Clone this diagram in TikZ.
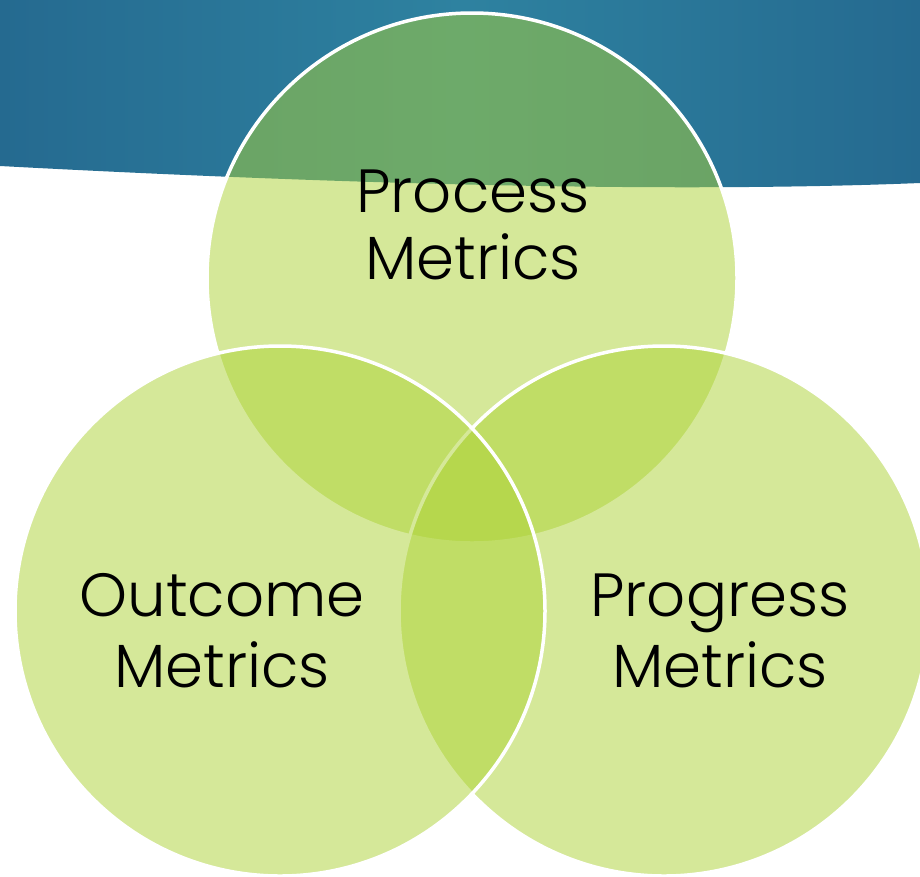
\documentclass[tikz,border=0pt]{standalone}
\usepackage{fontspec}
\setmainfont{Poppins Light}
\definecolor{bandblueA}{HTML}{256A90}
\definecolor{bandblueB}{HTML}{2E82A0}
\definecolor{vennfill}{HTML}{ADD335}
\tikzset{
  venn/.style={circle, minimum size=530pt, inner sep=0pt, outer sep=0pt,
    fill=vennfill, fill opacity=0.5, draw=white, draw opacity=1, line width=3.5pt},
  lbl/.style={anchor=base, inner sep=0pt, text=black,
    font=\fontsize{61}{67}\selectfont}
}
\begin{document}
\begin{tikzpicture}[x=1pt,y=-1pt]
\useasboundingbox (0,0) rectangle (920,876);
\fill[white] (0,0) rectangle (920,876);
% blue band
\shade[left color=bandblueA, right color=bandblueA, middle color=bandblueB]
  (0,0) -- (920,0) -- (920,183) .. controls (650,194) and (300,182) .. (0,166) -- cycle;
% circles
\node[venn] (process) at (472,278) {};
\node[venn] (progress) at (664,611) {};
\node[venn] (outcome) at (280,611) {};
% labels
\node[lbl] (processA) at (473,212) {Process};
\node[lbl] (processB) at (473,279) {Metrics};
\node[lbl] (outcomeA) at (222,616) {Outcome};
\node[lbl] (outcomeB) at (222,687) {Metrics};
\node[lbl] (progressA) at (720,616) {Progress};
\node[lbl] (progressB) at (720,687) {Metrics};
\end{tikzpicture}
\end{document}
